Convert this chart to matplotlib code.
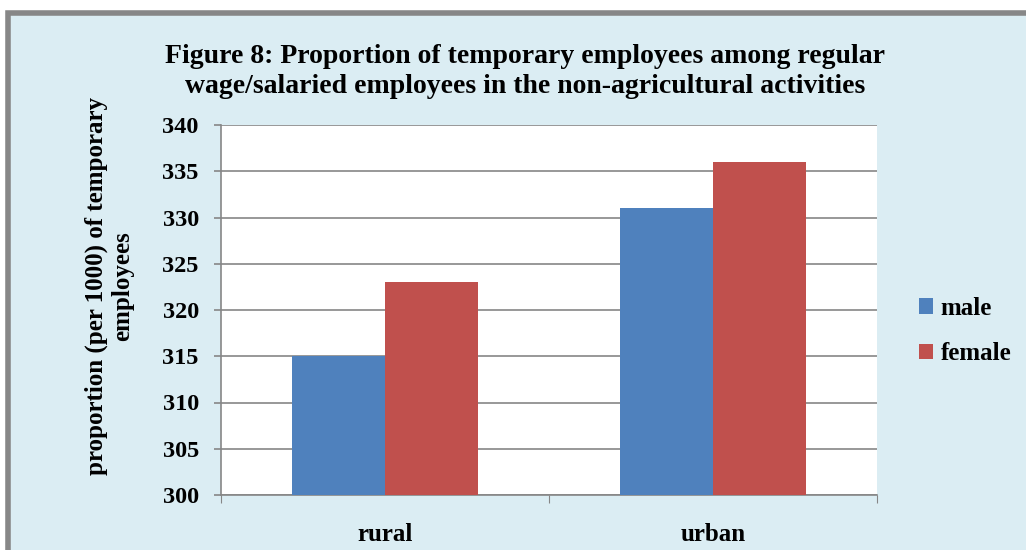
import matplotlib.pyplot as plt
import numpy as np
from matplotlib.patches import Rectangle

# data
areas = ["rural", "urban"]
male = [315, 331]
female = [323, 336]
yticks = [300, 305, 310, 315, 320, 325, 330, 335, 340]

plt.rcParams['font.family'] = ['Liberation Serif', 'DejaVu Serif']
plt.rcParams['font.weight'] = 'bold'

fig = plt.figure(figsize=(10.26, 5.5), dpi=100)
fig.patch.set_facecolor("white")

# light blue chart area with grey frame
bg = Rectangle((8 / 1026, -0.1), 1.2, 1 - 13 / 550 + 0.1, transform=fig.transFigure,
               facecolor="#dbedf3", edgecolor="#878787", linewidth=4, zorder=-10)
fig.patches.append(bg)

ax = fig.add_axes([221 / 1026, 55 / 550, 656 / 1026, 370 / 550])
ax.set_facecolor("white")

x = np.arange(len(areas))
w = 0.284
ax.bar(x - w / 2, male, w, color="#4f81bd", label="male", zorder=3)
ax.bar(x + w / 2, female, w, color="#c0504d", label="female", zorder=3)

ax.set_ylim(300, 340)
ax.set_xlim(-0.5, 1.5)
ax.set_yticks(yticks)
ax.set_yticklabels([str(v) for v in yticks], fontsize=17.5, fontweight="bold")
ax.yaxis.grid(True, color="#868686", linewidth=1.2, zorder=0)

ax.set_xticks([-0.5, 0.5, 1.5])
ax.set_xticklabels([])
ax.set_xticks(x, minor=True)
ax.set_xticklabels(areas, minor=True, fontsize=18, fontweight="bold")
ax.tick_params(axis="x", which="minor", length=0, pad=20)
ax.tick_params(axis="x", which="major", length=6, color="#868686", direction="out")
ax.tick_params(axis="y", length=5, color="#868686", width=1.2, pad=11)

for s in ["top", "right"]:
    ax.spines[s].set_visible(False)
for s in ["left", "bottom"]:
    ax.spines[s].set_color("#868686")
    ax.spines[s].set_linewidth(1.2)

ax.set_ylabel("proportion (per 1000) of temporary\nemployees", fontsize=18,
              fontweight="bold", linespacing=1.15)
ax.yaxis.set_label_coords(-0.133, 0.565)

fig.text(0.512, 0.87, "Figure 8: Proportion of temporary employees among regular\n"
         "wage/salaried employees in the non-agricultural activities",
         ha="center", va="center", fontsize=20, fontweight="bold", linespacing=1.25)

ax.legend(loc="center left", bbox_to_anchor=(1.03, 0.443), frameon=False,
          prop={"size": 18, "weight": "bold"}, handlelength=0.55, handleheight=0.55,
          handletextpad=0.3, labelspacing=0.9)

plt.savefig("out.png", dpi=100)
